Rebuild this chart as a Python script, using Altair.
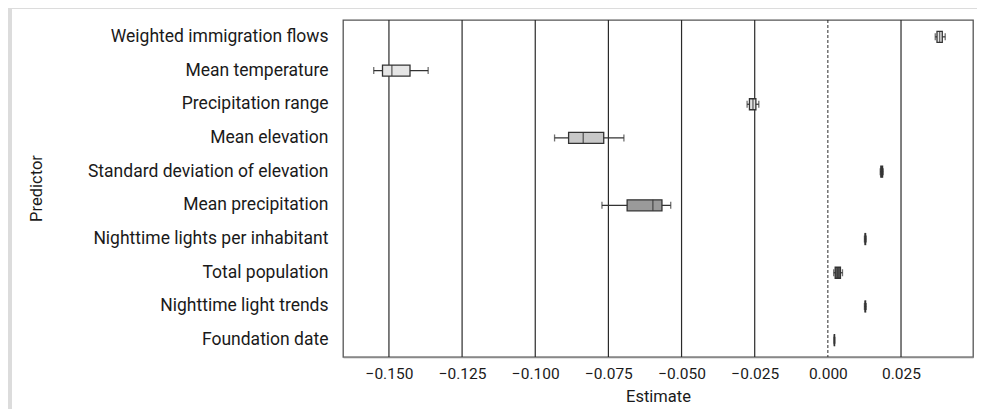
import altair as alt
import pandas as pd

predictors = [
    "Weighted immigration flows",
    "Mean temperature",
    "Precipitation range",
    "Mean elevation",
    "Standard deviation of elevation",
    "Mean precipitation",
    "Nighttime lights per inhabitant",
    "Total population",
    "Nighttime light trends",
    "Foundation date",
]
whisker_low = [0.0367, -0.1552, -0.0276, -0.0934, 0.0179, -0.0772, 0.0125, 0.0020, 0.0125, 0.0021]
q1 = [0.0373, -0.1522, -0.0268, -0.0886, 0.0181, -0.0686, 0.0127, 0.0025, 0.0127, 0.0022]
median = [0.0382, -0.1490, -0.0256, -0.0836, 0.0184, -0.0598, 0.0128, 0.0034, 0.0128, 0.0022]
q3 = [0.0391, -0.1428, -0.0246, -0.0766, 0.0187, -0.0567, 0.0129, 0.0043, 0.0129, 0.0023]
whisker_high = [0.0401, -0.1366, -0.0236, -0.0697, 0.0189, -0.0537, 0.0131, 0.0050, 0.0131, 0.0024]

tick_values = [-0.150, -0.125, -0.100, -0.075, -0.050, -0.025, 0.000, 0.025]

fill_colors = ["#eeeeee", "#e6e6e6", "#e2e2e2", "#c8c8c8", "#444444",
               "#9a9a9a", "#333333", "#555555", "#333333", "#333333"]

df = pd.DataFrame({
    "predictor": predictors,
    "lo": whisker_low,
    "q1": q1,
    "med": median,
    "q3": q3,
    "hi": whisker_high,
})
grid_df = pd.DataFrame({"v": [t for t in tick_values if t != 0]})
zero_df = pd.DataFrame({"v": [0.0]})
frame_df = pd.DataFrame({"a": [0]})

FONT = "Roboto"
xscale = alt.Scale(domain=[-0.1657, 0.0496], nice=False, zero=False)
ysort = predictors
dark = "#333333"

frame_left = alt.Chart(frame_df).mark_rect(fill="#dcdcdc", stroke=None).encode(
    x=alt.value(-335), x2=alt.value(-331), y=alt.value(-12), y2=alt.value(389)
)
frame_top = alt.Chart(frame_df).mark_rect(fill="#dcdcdc", stroke=None).encode(
    x=alt.value(-335), x2=alt.value(634), y=alt.value(-12), y2=alt.value(-11)
)

grid = alt.Chart(grid_df).mark_rule(color="#2a2a2a", strokeWidth=1.2).encode(
    x=alt.X("v:Q", scale=xscale)
)
zero = alt.Chart(zero_df).mark_rule(color="#2a2a2a", strokeWidth=1, strokeDash=[3, 2]).encode(
    x=alt.X("v:Q", scale=xscale)
)

base = alt.Chart(df)
y_enc = alt.Y("predictor:N", sort=ysort, scale=alt.Scale(paddingInner=0, paddingOuter=0),
              title="Predictor")

whisk = base.mark_rule(color=dark, strokeWidth=1.2).encode(
    x=alt.X("lo:Q", scale=xscale,
            axis=alt.Axis(values=tick_values, format=".3f", title="Estimate")),
    x2="hi:Q",
    y=y_enc,
)
cap_lo = base.mark_tick(color=dark, size=7, thickness=1.3, orient="vertical").encode(
    x=alt.X("lo:Q", scale=xscale), y=y_enc
)
cap_hi = base.mark_tick(color=dark, size=7, thickness=1.3, orient="vertical").encode(
    x=alt.X("hi:Q", scale=xscale), y=y_enc
)
box = base.mark_bar(size=11, stroke=dark, strokeWidth=1.3).encode(
    x=alt.X("q1:Q", scale=xscale),
    x2="q3:Q",
    y=y_enc,
    fill=alt.Fill("predictor:N", scale=alt.Scale(domain=predictors, range=fill_colors), legend=None),
)
med = base.mark_tick(color=dark, size=11, thickness=1.4, orient="vertical").encode(
    x=alt.X("med:Q", scale=xscale), y=y_enc
)

chart = alt.layer(frame_left, frame_top, grid, zero, whisk, cap_lo, cap_hi, box, med).properties(
    width=630,
    height=337,
    autosize=alt.AutoSizeParams(type="none"),
    padding={"left": 335, "top": 12, "right": 4, "bottom": 52},
    background="white",
).configure_view(
    stroke="#555555", strokeWidth=1.3
).configure_axisX(
    grid=False, ticks=False, domainColor="#888888", domainWidth=1.3,
    labelFont=FONT, labelFontSize=15.5, labelColor="#1a1a1a", labelPadding=9,
    titleFont=FONT, titleFontSize=16.5, titleColor="#1a1a1a", titleFontWeight="normal",
    titlePadding=7,
).configure_axisY(
    grid=False, ticks=False, domain=False,
    labelFont=FONT, labelFontSize=17.5, labelColor="#1a1a1a", labelPadding=15,
    labelLimit=400,
    titleFont=FONT, titleFontSize=16.5, titleColor="#1a1a1a", titleFontWeight="normal",
    titleX=-307, titleY=168, titleAngle=-90, titleBaseline="middle", titleAlign="center",
)

chart.save("out.html", embed_options={"renderer": "svg", "actions": False})
